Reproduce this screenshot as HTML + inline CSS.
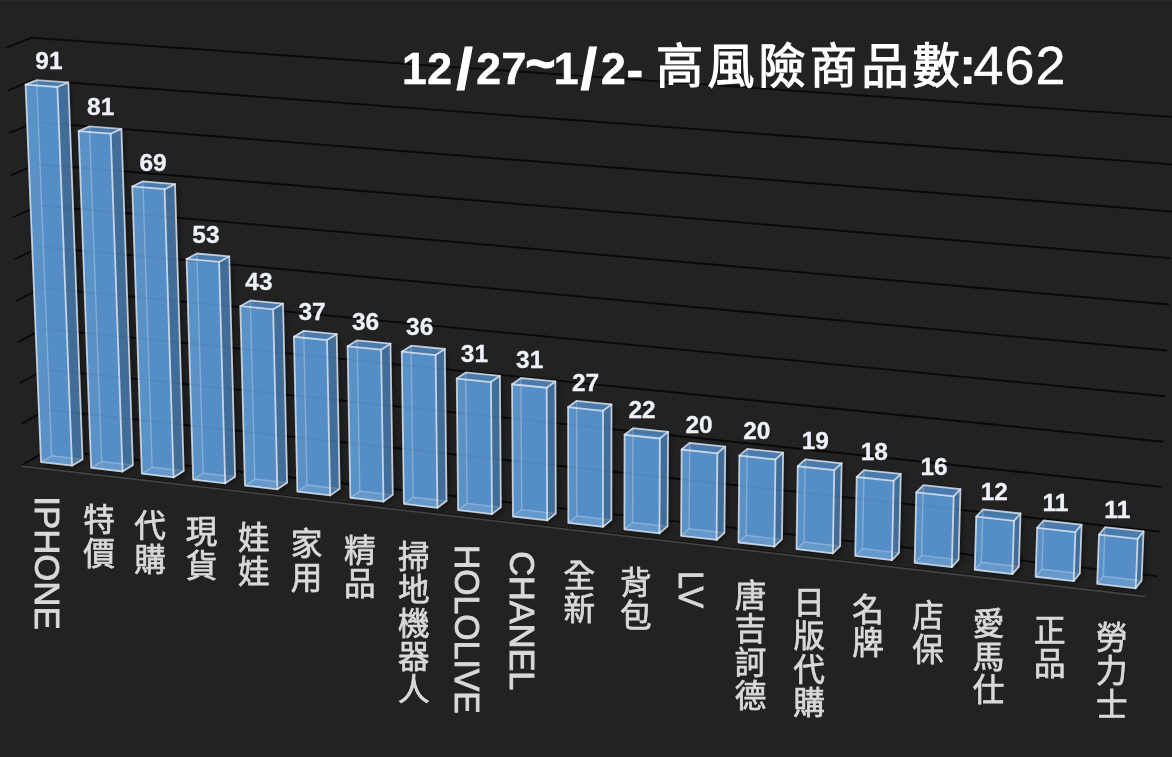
<!DOCTYPE html>
<html lang="zh-Hant"><head><meta charset="utf-8"><title>12/27~1/2- 高風險商品數:462</title>
<style>html,body{margin:0;padding:0;background:#222222;overflow:hidden}svg{display:block}</style>
</head><body>
<svg width="1172" height="757" viewBox="0 0 1172 757">
<rect width="1172" height="757" fill="#222222"/>
<rect width="1172" height="1" fill="#2b2b2b"/>
<g stroke="#0a0a0a" stroke-width="1.9" stroke-linecap="butt" fill="none">
<polyline points="21.44,465.51 48.25,449.85 1157.74,576.21" />
<polyline points="21.57,423.89 46.63,409.73 1159.59,531.67" />
<polyline points="19.85,383.10 45.00,369.38 1161.44,486.84" />
<polyline points="18.12,342.07 43.37,328.78 1163.31,441.72" />
<polyline points="16.38,300.80 41.72,287.94 1165.19,396.29" />
<polyline points="14.62,259.27 40.06,246.86 1167.09,350.56" />
<polyline points="12.86,217.49 38.39,205.54 1168.99,304.52" />
<polyline points="11.09,175.47 36.72,163.96 1170.91,258.17" />
<polyline points="9.30,133.18 35.03,122.14 1172.84,211.51" />
<polyline points="7.50,90.64 33.33,80.07 1174.79,164.54" />
<polyline points="5.70,47.84 31.62,37.74 1176.75,117.24" />
</g>
<defs><filter id="sh" filterUnits="userSpaceOnUse" x="0" y="0" width="1172" height="757"><feGaussianBlur stdDeviation="3"/></filter></defs>
<g filter="url(#sh)" fill="#000000" fill-opacity="0.55" transform="translate(2.0,2.0)">
<polygon points="41.01,462.09 72.04,465.67 82.61,459.36 68.34,82.42 36.62,80.07 25.57,84.60" />
<polygon points="91.17,467.87 122.54,471.49 132.90,465.11 121.41,128.90 89.44,126.39 78.63,131.17" />
<polygon points="141.87,473.72 173.58,477.38 183.75,470.94 175.02,184.11 142.79,181.40 132.23,186.47" />
<polygon points="193.13,479.63 225.19,483.33 235.15,476.82 229.27,256.45 196.84,253.49 186.55,258.94" />
<polygon points="244.95,485.61 277.37,489.34 287.12,482.77 283.02,303.61 250.33,300.48 240.29,306.18" />
<polygon points="297.35,491.65 330.13,495.43 339.67,488.79 336.73,334.11 303.72,330.87 293.92,336.74" />
<polygon points="350.33,497.76 383.48,501.58 392.80,494.87 390.51,343.64 357.15,340.35 347.57,346.30" />
<polygon points="403.91,503.93 437.44,507.80 446.53,501.02 444.83,349.00 411.08,345.67 401.73,351.69" />
<polygon points="458.10,510.18 492.00,514.09 500.86,507.24 499.92,375.86 465.84,372.42 456.74,378.60" />
<polygon points="512.90,516.50 547.18,520.45 555.81,513.53 555.40,381.46 520.92,377.98 512.06,384.23" />
<polygon points="568.32,522.89 603.00,526.89 611.38,519.89 611.49,404.40 576.67,400.82 568.06,407.22" />
<polygon points="624.38,529.35 659.46,533.40 667.60,526.33 668.08,431.87 632.91,428.18 624.56,434.75" />
<polygon points="681.09,535.89 716.58,539.98 724.45,532.84 725.26,446.57 689.70,442.81 681.62,449.49" />
<polygon points="738.46,542.51 774.36,546.64 781.97,539.42 783.15,452.69 747.18,448.89 739.35,455.64" />
<polygon points="796.49,549.20 832.82,553.38 840.16,546.09 841.64,463.27 805.26,459.41 797.71,466.26" />
<polygon points="855.21,555.97 891.97,560.20 899.04,552.83 900.79,473.97 863.99,470.05 856.71,476.99" />
<polygon points="914.63,562.82 951.82,567.11 958.60,559.64 960.48,489.22 923.27,485.22 916.28,492.28" />
<polygon points="974.75,569.75 1012.38,574.09 1018.88,566.55 1020.53,513.51 982.92,509.40 976.23,516.63" />
<polygon points="1035.59,576.76 1073.67,581.15 1079.87,573.53 1081.61,524.66 1043.57,520.49 1037.17,527.82" />
<polygon points="1097.16,583.86 1135.71,588.31 1141.60,580.60 1143.57,531.46 1105.07,527.23 1098.98,534.65" />
</g>
<line x1="21.44" y1="464.91" x2="1145.04" y2="595.15" stroke="#141414" stroke-width="1.0"/>
<line x1="21.44" y1="466.11" x2="1145.04" y2="596.35" stroke="#444444" stroke-width="1.6"/>
<g>
<polygon points="41.01,462.09 72.04,465.67 82.61,459.36 68.34,82.42 36.62,80.07 25.57,84.60" fill="#558ec6"/>
<polygon points="41.01,462.09 72.04,465.67 82.61,459.36 51.69,455.82" fill="rgba(255,255,255,0.10)"/>
<polygon points="41.01,462.09 51.69,455.82 36.62,80.07 25.57,84.60" fill="rgba(255,255,255,0.03)"/>
<g stroke="rgba(255,255,255,0.27)" stroke-width="1.4" fill="none">
<line x1="51.69" y1="455.82" x2="36.62" y2="80.07" />
<line x1="51.69" y1="455.82" x2="41.01" y2="462.09" />
<line x1="51.69" y1="455.82" x2="82.61" y2="459.36" />
</g>
<polygon points="72.04,465.67 82.61,459.36 68.34,82.42 57.41,86.98" fill="rgba(0,0,0,0.23)"/>
<polygon points="25.57,84.60 57.41,86.98 68.34,82.42 36.62,80.07" fill="rgba(0,0,0,0.13)"/>
<g stroke="#dfe8f3" stroke-width="1.8" stroke-opacity="0.82" fill="none" stroke-linejoin="round" stroke-linecap="round">
<polygon points="41.01,462.09 72.04,465.67 57.41,86.98 25.57,84.60" />
<polyline points="72.04,465.67 82.61,459.36 68.34,82.42 57.41,86.98" />
<polyline points="25.57,84.60 36.62,80.07 68.34,82.42" />
</g>
</g>
<g>
<polygon points="91.17,467.87 122.54,471.49 132.90,465.11 121.41,128.90 89.44,126.39 78.63,131.17" fill="#558ec6"/>
<polygon points="91.17,467.87 122.54,471.49 132.90,465.11 101.66,461.54" fill="rgba(255,255,255,0.10)"/>
<polygon points="91.17,467.87 101.66,461.54 89.44,126.39 78.63,131.17" fill="rgba(255,255,255,0.03)"/>
<g stroke="rgba(255,255,255,0.27)" stroke-width="1.4" fill="none">
<line x1="101.66" y1="461.54" x2="89.44" y2="126.39" />
<line x1="101.66" y1="461.54" x2="91.17" y2="467.87" />
<line x1="101.66" y1="461.54" x2="132.90" y2="465.11" />
</g>
<polygon points="122.54,471.49 132.90,465.11 121.41,128.90 110.73,133.71" fill="rgba(0,0,0,0.23)"/>
<polygon points="78.63,131.17 110.73,133.71 121.41,128.90 89.44,126.39" fill="rgba(0,0,0,0.13)"/>
<g stroke="#dfe8f3" stroke-width="1.8" stroke-opacity="0.82" fill="none" stroke-linejoin="round" stroke-linecap="round">
<polygon points="91.17,467.87 122.54,471.49 110.73,133.71 78.63,131.17" />
<polyline points="122.54,471.49 132.90,465.11 121.41,128.90 110.73,133.71" />
<polyline points="78.63,131.17 89.44,126.39 121.41,128.90" />
</g>
</g>
<g>
<polygon points="141.87,473.72 173.58,477.38 183.75,470.94 175.02,184.11 142.79,181.40 132.23,186.47" fill="#558ec6"/>
<polygon points="141.87,473.72 173.58,477.38 183.75,470.94 152.16,467.32" fill="rgba(255,255,255,0.10)"/>
<polygon points="141.87,473.72 152.16,467.32 142.79,181.40 132.23,186.47" fill="rgba(255,255,255,0.03)"/>
<g stroke="rgba(255,255,255,0.27)" stroke-width="1.4" fill="none">
<line x1="152.16" y1="467.32" x2="142.79" y2="181.40" />
<line x1="152.16" y1="467.32" x2="141.87" y2="473.72" />
<line x1="152.16" y1="467.32" x2="183.75" y2="470.94" />
</g>
<polygon points="173.58,477.38 183.75,470.94 175.02,184.11 164.59,189.21" fill="rgba(0,0,0,0.23)"/>
<polygon points="132.23,186.47 164.59,189.21 175.02,184.11 142.79,181.40" fill="rgba(0,0,0,0.13)"/>
<g stroke="#dfe8f3" stroke-width="1.8" stroke-opacity="0.82" fill="none" stroke-linejoin="round" stroke-linecap="round">
<polygon points="141.87,473.72 173.58,477.38 164.59,189.21 132.23,186.47" />
<polyline points="173.58,477.38 183.75,470.94 175.02,184.11 164.59,189.21" />
<polyline points="132.23,186.47 142.79,181.40 175.02,184.11" />
</g>
</g>
<g>
<polygon points="193.13,479.63 225.19,483.33 235.15,476.82 229.27,256.45 196.84,253.49 186.55,258.94" fill="#558ec6"/>
<polygon points="193.13,479.63 225.19,483.33 235.15,476.82 203.22,473.16" fill="rgba(255,255,255,0.10)"/>
<polygon points="193.13,479.63 203.22,473.16 196.84,253.49 186.55,258.94" fill="rgba(255,255,255,0.03)"/>
<g stroke="rgba(255,255,255,0.27)" stroke-width="1.4" fill="none">
<line x1="203.22" y1="473.16" x2="196.84" y2="253.49" />
<line x1="203.22" y1="473.16" x2="193.13" y2="479.63" />
<line x1="203.22" y1="473.16" x2="235.15" y2="476.82" />
</g>
<polygon points="225.19,483.33 235.15,476.82 229.27,256.45 219.12,261.93" fill="rgba(0,0,0,0.23)"/>
<polygon points="186.55,258.94 219.12,261.93 229.27,256.45 196.84,253.49" fill="rgba(0,0,0,0.13)"/>
<g stroke="#dfe8f3" stroke-width="1.8" stroke-opacity="0.82" fill="none" stroke-linejoin="round" stroke-linecap="round">
<polygon points="193.13,479.63 225.19,483.33 219.12,261.93 186.55,258.94" />
<polyline points="225.19,483.33 235.15,476.82 229.27,256.45 219.12,261.93" />
<polyline points="186.55,258.94 196.84,253.49 229.27,256.45" />
</g>
</g>
<g>
<polygon points="244.95,485.61 277.37,489.34 287.12,482.77 283.02,303.61 250.33,300.48 240.29,306.18" fill="#558ec6"/>
<polygon points="244.95,485.61 277.37,489.34 287.12,482.77 254.84,479.07" fill="rgba(255,255,255,0.10)"/>
<polygon points="244.95,485.61 254.84,479.07 250.33,300.48 240.29,306.18" fill="rgba(255,255,255,0.03)"/>
<g stroke="rgba(255,255,255,0.27)" stroke-width="1.4" fill="none">
<line x1="254.84" y1="479.07" x2="250.33" y2="300.48" />
<line x1="254.84" y1="479.07" x2="244.95" y2="485.61" />
<line x1="254.84" y1="479.07" x2="287.12" y2="482.77" />
</g>
<polygon points="277.37,489.34 287.12,482.77 283.02,303.61 273.12,309.34" fill="rgba(0,0,0,0.23)"/>
<polygon points="240.29,306.18 273.12,309.34 283.02,303.61 250.33,300.48" fill="rgba(0,0,0,0.13)"/>
<g stroke="#dfe8f3" stroke-width="1.8" stroke-opacity="0.82" fill="none" stroke-linejoin="round" stroke-linecap="round">
<polygon points="244.95,485.61 277.37,489.34 273.12,309.34 240.29,306.18" />
<polyline points="277.37,489.34 287.12,482.77 283.02,303.61 273.12,309.34" />
<polyline points="240.29,306.18 250.33,300.48 283.02,303.61" />
</g>
</g>
<g>
<polygon points="297.35,491.65 330.13,495.43 339.67,488.79 336.73,334.11 303.72,330.87 293.92,336.74" fill="#558ec6"/>
<polygon points="297.35,491.65 330.13,495.43 339.67,488.79 307.02,485.05" fill="rgba(255,255,255,0.10)"/>
<polygon points="297.35,491.65 307.02,485.05 303.72,330.87 293.92,336.74" fill="rgba(255,255,255,0.03)"/>
<g stroke="rgba(255,255,255,0.27)" stroke-width="1.4" fill="none">
<line x1="307.02" y1="485.05" x2="303.72" y2="330.87" />
<line x1="307.02" y1="485.05" x2="297.35" y2="491.65" />
<line x1="307.02" y1="485.05" x2="339.67" y2="488.79" />
</g>
<polygon points="330.13,495.43 339.67,488.79 336.73,334.11 327.06,340.03" fill="rgba(0,0,0,0.23)"/>
<polygon points="293.92,336.74 327.06,340.03 336.73,334.11 303.72,330.87" fill="rgba(0,0,0,0.13)"/>
<g stroke="#dfe8f3" stroke-width="1.8" stroke-opacity="0.82" fill="none" stroke-linejoin="round" stroke-linecap="round">
<polygon points="297.35,491.65 330.13,495.43 327.06,340.03 293.92,336.74" />
<polyline points="330.13,495.43 339.67,488.79 336.73,334.11 327.06,340.03" />
<polyline points="293.92,336.74 303.72,330.87 336.73,334.11" />
</g>
</g>
<g>
<polygon points="350.33,497.76 383.48,501.58 392.80,494.87 390.51,343.64 357.15,340.35 347.57,346.30" fill="#558ec6"/>
<polygon points="350.33,497.76 383.48,501.58 392.80,494.87 359.79,491.09" fill="rgba(255,255,255,0.10)"/>
<polygon points="350.33,497.76 359.79,491.09 357.15,340.35 347.57,346.30" fill="rgba(255,255,255,0.03)"/>
<g stroke="rgba(255,255,255,0.27)" stroke-width="1.4" fill="none">
<line x1="359.79" y1="491.09" x2="357.15" y2="340.35" />
<line x1="359.79" y1="491.09" x2="350.33" y2="497.76" />
<line x1="359.79" y1="491.09" x2="392.80" y2="494.87" />
</g>
<polygon points="383.48,501.58 392.80,494.87 390.51,343.64 381.08,349.64" fill="rgba(0,0,0,0.23)"/>
<polygon points="347.57,346.30 381.08,349.64 390.51,343.64 357.15,340.35" fill="rgba(0,0,0,0.13)"/>
<g stroke="#dfe8f3" stroke-width="1.8" stroke-opacity="0.82" fill="none" stroke-linejoin="round" stroke-linecap="round">
<polygon points="350.33,497.76 383.48,501.58 381.08,349.64 347.57,346.30" />
<polyline points="383.48,501.58 392.80,494.87 390.51,343.64 381.08,349.64" />
<polyline points="347.57,346.30 357.15,340.35 390.51,343.64" />
</g>
</g>
<g>
<polygon points="403.91,503.93 437.44,507.80 446.53,501.02 444.83,349.00 411.08,345.67 401.73,351.69" fill="#558ec6"/>
<polygon points="403.91,503.93 437.44,507.80 446.53,501.02 413.15,497.20" fill="rgba(255,255,255,0.10)"/>
<polygon points="403.91,503.93 413.15,497.20 411.08,345.67 401.73,351.69" fill="rgba(255,255,255,0.03)"/>
<g stroke="rgba(255,255,255,0.27)" stroke-width="1.4" fill="none">
<line x1="413.15" y1="497.20" x2="411.08" y2="345.67" />
<line x1="413.15" y1="497.20" x2="403.91" y2="503.93" />
<line x1="413.15" y1="497.20" x2="446.53" y2="501.02" />
</g>
<polygon points="437.44,507.80 446.53,501.02 444.83,349.00 435.62,355.06" fill="rgba(0,0,0,0.23)"/>
<polygon points="401.73,351.69 435.62,355.06 444.83,349.00 411.08,345.67" fill="rgba(0,0,0,0.13)"/>
<g stroke="#dfe8f3" stroke-width="1.8" stroke-opacity="0.82" fill="none" stroke-linejoin="round" stroke-linecap="round">
<polygon points="403.91,503.93 437.44,507.80 435.62,355.06 401.73,351.69" />
<polyline points="437.44,507.80 446.53,501.02 444.83,349.00 435.62,355.06" />
<polyline points="401.73,351.69 411.08,345.67 444.83,349.00" />
</g>
</g>
<g>
<polygon points="458.10,510.18 492.00,514.09 500.86,507.24 499.92,375.86 465.84,372.42 456.74,378.60" fill="#558ec6"/>
<polygon points="458.10,510.18 492.00,514.09 500.86,507.24 467.10,503.38" fill="rgba(255,255,255,0.10)"/>
<polygon points="458.10,510.18 467.10,503.38 465.84,372.42 456.74,378.60" fill="rgba(255,255,255,0.03)"/>
<g stroke="rgba(255,255,255,0.27)" stroke-width="1.4" fill="none">
<line x1="467.10" y1="503.38" x2="465.84" y2="372.42" />
<line x1="467.10" y1="503.38" x2="458.10" y2="510.18" />
<line x1="467.10" y1="503.38" x2="500.86" y2="507.24" />
</g>
<polygon points="492.00,514.09 500.86,507.24 499.92,375.86 490.96,382.08" fill="rgba(0,0,0,0.23)"/>
<polygon points="456.74,378.60 490.96,382.08 499.92,375.86 465.84,372.42" fill="rgba(0,0,0,0.13)"/>
<g stroke="#dfe8f3" stroke-width="1.8" stroke-opacity="0.82" fill="none" stroke-linejoin="round" stroke-linecap="round">
<polygon points="458.10,510.18 492.00,514.09 490.96,382.08 456.74,378.60" />
<polyline points="492.00,514.09 500.86,507.24 499.92,375.86 490.96,382.08" />
<polyline points="456.74,378.60 465.84,372.42 499.92,375.86" />
</g>
</g>
<g>
<polygon points="512.90,516.50 547.18,520.45 555.81,513.53 555.40,381.46 520.92,377.98 512.06,384.23" fill="#558ec6"/>
<polygon points="512.90,516.50 547.18,520.45 555.81,513.53 521.67,509.62" fill="rgba(255,255,255,0.10)"/>
<polygon points="512.90,516.50 521.67,509.62 520.92,377.98 512.06,384.23" fill="rgba(255,255,255,0.03)"/>
<g stroke="rgba(255,255,255,0.27)" stroke-width="1.4" fill="none">
<line x1="521.67" y1="509.62" x2="520.92" y2="377.98" />
<line x1="521.67" y1="509.62" x2="512.90" y2="516.50" />
<line x1="521.67" y1="509.62" x2="555.81" y2="513.53" />
</g>
<polygon points="547.18,520.45 555.81,513.53 555.40,381.46 546.68,387.75" fill="rgba(0,0,0,0.23)"/>
<polygon points="512.06,384.23 546.68,387.75 555.40,381.46 520.92,377.98" fill="rgba(0,0,0,0.13)"/>
<g stroke="#dfe8f3" stroke-width="1.8" stroke-opacity="0.82" fill="none" stroke-linejoin="round" stroke-linecap="round">
<polygon points="512.90,516.50 547.18,520.45 546.68,387.75 512.06,384.23" />
<polyline points="547.18,520.45 555.81,513.53 555.40,381.46 546.68,387.75" />
<polyline points="512.06,384.23 520.92,377.98 555.40,381.46" />
</g>
</g>
<g>
<polygon points="568.32,522.89 603.00,526.89 611.38,519.89 611.49,404.40 576.67,400.82 568.06,407.22" fill="#558ec6"/>
<polygon points="568.32,522.89 603.00,526.89 611.38,519.89 576.85,515.94" fill="rgba(255,255,255,0.10)"/>
<polygon points="568.32,522.89 576.85,515.94 576.67,400.82 568.06,407.22" fill="rgba(255,255,255,0.03)"/>
<g stroke="rgba(255,255,255,0.27)" stroke-width="1.4" fill="none">
<line x1="576.85" y1="515.94" x2="576.67" y2="400.82" />
<line x1="576.85" y1="515.94" x2="568.32" y2="522.89" />
<line x1="576.85" y1="515.94" x2="611.38" y2="519.89" />
</g>
<polygon points="603.00,526.89 611.38,519.89 611.49,404.40 603.04,410.84" fill="rgba(0,0,0,0.23)"/>
<polygon points="568.06,407.22 603.04,410.84 611.49,404.40 576.67,400.82" fill="rgba(0,0,0,0.13)"/>
<g stroke="#dfe8f3" stroke-width="1.8" stroke-opacity="0.82" fill="none" stroke-linejoin="round" stroke-linecap="round">
<polygon points="568.32,522.89 603.00,526.89 603.04,410.84 568.06,407.22" />
<polyline points="603.00,526.89 611.38,519.89 611.49,404.40 603.04,410.84" />
<polyline points="568.06,407.22 576.67,400.82 611.49,404.40" />
</g>
</g>
<g>
<polygon points="624.38,529.35 659.46,533.40 667.60,526.33 668.08,431.87 632.91,428.18 624.56,434.75" fill="#558ec6"/>
<polygon points="624.38,529.35 659.46,533.40 667.60,526.33 632.67,522.33" fill="rgba(255,255,255,0.10)"/>
<polygon points="624.38,529.35 632.67,522.33 632.91,428.18 624.56,434.75" fill="rgba(255,255,255,0.03)"/>
<g stroke="rgba(255,255,255,0.27)" stroke-width="1.4" fill="none">
<line x1="632.67" y1="522.33" x2="632.91" y2="428.18" />
<line x1="632.67" y1="522.33" x2="624.38" y2="529.35" />
<line x1="632.67" y1="522.33" x2="667.60" y2="526.33" />
</g>
<polygon points="659.46,533.40 667.60,526.33 668.08,431.87 659.89,438.49" fill="rgba(0,0,0,0.23)"/>
<polygon points="624.56,434.75 659.89,438.49 668.08,431.87 632.91,428.18" fill="rgba(0,0,0,0.13)"/>
<g stroke="#dfe8f3" stroke-width="1.8" stroke-opacity="0.82" fill="none" stroke-linejoin="round" stroke-linecap="round">
<polygon points="624.38,529.35 659.46,533.40 659.89,438.49 624.56,434.75" />
<polyline points="659.46,533.40 667.60,526.33 668.08,431.87 659.89,438.49" />
<polyline points="624.56,434.75 632.91,428.18 668.08,431.87" />
</g>
</g>
<g>
<polygon points="681.09,535.89 716.58,539.98 724.45,532.84 725.26,446.57 689.70,442.81 681.62,449.49" fill="#558ec6"/>
<polygon points="681.09,535.89 716.58,539.98 724.45,532.84 689.12,528.79" fill="rgba(255,255,255,0.10)"/>
<polygon points="681.09,535.89 689.12,528.79 689.70,442.81 681.62,449.49" fill="rgba(255,255,255,0.03)"/>
<g stroke="rgba(255,255,255,0.27)" stroke-width="1.4" fill="none">
<line x1="689.12" y1="528.79" x2="689.70" y2="442.81" />
<line x1="689.12" y1="528.79" x2="681.09" y2="535.89" />
<line x1="689.12" y1="528.79" x2="724.45" y2="532.84" />
</g>
<polygon points="716.58,539.98 724.45,532.84 725.26,446.57 717.34,453.30" fill="rgba(0,0,0,0.23)"/>
<polygon points="681.62,449.49 717.34,453.30 725.26,446.57 689.70,442.81" fill="rgba(0,0,0,0.13)"/>
<g stroke="#dfe8f3" stroke-width="1.8" stroke-opacity="0.82" fill="none" stroke-linejoin="round" stroke-linecap="round">
<polygon points="681.09,535.89 716.58,539.98 717.34,453.30 681.62,449.49" />
<polyline points="716.58,539.98 724.45,532.84 725.26,446.57 717.34,453.30" />
<polyline points="681.62,449.49 689.70,442.81 725.26,446.57" />
</g>
</g>
<g>
<polygon points="738.46,542.51 774.36,546.64 781.97,539.42 783.15,452.69 747.18,448.89 739.35,455.64" fill="#558ec6"/>
<polygon points="738.46,542.51 774.36,546.64 781.97,539.42 746.23,535.33" fill="rgba(255,255,255,0.10)"/>
<polygon points="738.46,542.51 746.23,535.33 747.18,448.89 739.35,455.64" fill="rgba(255,255,255,0.03)"/>
<g stroke="rgba(255,255,255,0.27)" stroke-width="1.4" fill="none">
<line x1="746.23" y1="535.33" x2="747.18" y2="448.89" />
<line x1="746.23" y1="535.33" x2="738.46" y2="542.51" />
<line x1="746.23" y1="535.33" x2="781.97" y2="539.42" />
</g>
<polygon points="774.36,546.64 781.97,539.42 783.15,452.69 775.49,459.49" fill="rgba(0,0,0,0.23)"/>
<polygon points="739.35,455.64 775.49,459.49 783.15,452.69 747.18,448.89" fill="rgba(0,0,0,0.13)"/>
<g stroke="#dfe8f3" stroke-width="1.8" stroke-opacity="0.82" fill="none" stroke-linejoin="round" stroke-linecap="round">
<polygon points="738.46,542.51 774.36,546.64 775.49,459.49 739.35,455.64" />
<polyline points="774.36,546.64 781.97,539.42 783.15,452.69 775.49,459.49" />
<polyline points="739.35,455.64 747.18,448.89 783.15,452.69" />
</g>
</g>
<g>
<polygon points="796.49,549.20 832.82,553.38 840.16,546.09 841.64,463.27 805.26,459.41 797.71,466.26" fill="#558ec6"/>
<polygon points="796.49,549.20 832.82,553.38 840.16,546.09 804.01,541.95" fill="rgba(255,255,255,0.10)"/>
<polygon points="796.49,549.20 804.01,541.95 805.26,459.41 797.71,466.26" fill="rgba(255,255,255,0.03)"/>
<g stroke="rgba(255,255,255,0.27)" stroke-width="1.4" fill="none">
<line x1="804.01" y1="541.95" x2="805.26" y2="459.41" />
<line x1="804.01" y1="541.95" x2="796.49" y2="549.20" />
<line x1="804.01" y1="541.95" x2="840.16" y2="546.09" />
</g>
<polygon points="832.82,553.38 840.16,546.09 841.64,463.27 834.26,470.17" fill="rgba(0,0,0,0.23)"/>
<polygon points="797.71,466.26 834.26,470.17 841.64,463.27 805.26,459.41" fill="rgba(0,0,0,0.13)"/>
<g stroke="#dfe8f3" stroke-width="1.8" stroke-opacity="0.82" fill="none" stroke-linejoin="round" stroke-linecap="round">
<polygon points="796.49,549.20 832.82,553.38 834.26,470.17 797.71,466.26" />
<polyline points="832.82,553.38 840.16,546.09 841.64,463.27 834.26,470.17" />
<polyline points="797.71,466.26 805.26,459.41 841.64,463.27" />
</g>
</g>
<g>
<polygon points="855.21,555.97 891.97,560.20 899.04,552.83 900.79,473.97 863.99,470.05 856.71,476.99" fill="#558ec6"/>
<polygon points="855.21,555.97 891.97,560.20 899.04,552.83 862.45,548.64" fill="rgba(255,255,255,0.10)"/>
<polygon points="855.21,555.97 862.45,548.64 863.99,470.05 856.71,476.99" fill="rgba(255,255,255,0.03)"/>
<g stroke="rgba(255,255,255,0.27)" stroke-width="1.4" fill="none">
<line x1="862.45" y1="548.64" x2="863.99" y2="470.05" />
<line x1="862.45" y1="548.64" x2="855.21" y2="555.97" />
<line x1="862.45" y1="548.64" x2="899.04" y2="552.83" />
</g>
<polygon points="891.97,560.20 899.04,552.83 900.79,473.97 893.69,480.97" fill="rgba(0,0,0,0.23)"/>
<polygon points="856.71,476.99 893.69,480.97 900.79,473.97 863.99,470.05" fill="rgba(0,0,0,0.13)"/>
<g stroke="#dfe8f3" stroke-width="1.8" stroke-opacity="0.82" fill="none" stroke-linejoin="round" stroke-linecap="round">
<polygon points="855.21,555.97 891.97,560.20 893.69,480.97 856.71,476.99" />
<polyline points="891.97,560.20 899.04,552.83 900.79,473.97 893.69,480.97" />
<polyline points="856.71,476.99 863.99,470.05 900.79,473.97" />
</g>
</g>
<g>
<polygon points="914.63,562.82 951.82,567.11 958.60,559.64 960.48,489.22 923.27,485.22 916.28,492.28" fill="#558ec6"/>
<polygon points="914.63,562.82 951.82,567.11 958.60,559.64 921.59,555.41" fill="rgba(255,255,255,0.10)"/>
<polygon points="914.63,562.82 921.59,555.41 923.27,485.22 916.28,492.28" fill="rgba(255,255,255,0.03)"/>
<g stroke="rgba(255,255,255,0.27)" stroke-width="1.4" fill="none">
<line x1="921.59" y1="555.41" x2="923.27" y2="485.22" />
<line x1="921.59" y1="555.41" x2="914.63" y2="562.82" />
<line x1="921.59" y1="555.41" x2="958.60" y2="559.64" />
</g>
<polygon points="951.82,567.11 958.60,559.64 960.48,489.22 953.67,496.33" fill="rgba(0,0,0,0.23)"/>
<polygon points="916.28,492.28 953.67,496.33 960.48,489.22 923.27,485.22" fill="rgba(0,0,0,0.13)"/>
<g stroke="#dfe8f3" stroke-width="1.8" stroke-opacity="0.82" fill="none" stroke-linejoin="round" stroke-linecap="round">
<polygon points="914.63,562.82 951.82,567.11 953.67,496.33 916.28,492.28" />
<polyline points="951.82,567.11 958.60,559.64 960.48,489.22 953.67,496.33" />
<polyline points="916.28,492.28 923.27,485.22 960.48,489.22" />
</g>
</g>
<g>
<polygon points="974.75,569.75 1012.38,574.09 1018.88,566.55 1020.53,513.51 982.92,509.40 976.23,516.63" fill="#558ec6"/>
<polygon points="974.75,569.75 1012.38,574.09 1018.88,566.55 981.42,562.26" fill="rgba(255,255,255,0.10)"/>
<polygon points="974.75,569.75 981.42,562.26 982.92,509.40 976.23,516.63" fill="rgba(255,255,255,0.03)"/>
<g stroke="rgba(255,255,255,0.27)" stroke-width="1.4" fill="none">
<line x1="981.42" y1="562.26" x2="982.92" y2="509.40" />
<line x1="981.42" y1="562.26" x2="974.75" y2="569.75" />
<line x1="981.42" y1="562.26" x2="1018.88" y2="566.55" />
</g>
<polygon points="1012.38,574.09 1018.88,566.55 1020.53,513.51 1014.01,520.79" fill="rgba(0,0,0,0.23)"/>
<polygon points="976.23,516.63 1014.01,520.79 1020.53,513.51 982.92,509.40" fill="rgba(0,0,0,0.13)"/>
<g stroke="#dfe8f3" stroke-width="1.8" stroke-opacity="0.82" fill="none" stroke-linejoin="round" stroke-linecap="round">
<polygon points="974.75,569.75 1012.38,574.09 1014.01,520.79 976.23,516.63" />
<polyline points="1012.38,574.09 1018.88,566.55 1020.53,513.51 1014.01,520.79" />
<polyline points="976.23,516.63 982.92,509.40 1020.53,513.51" />
</g>
</g>
<g>
<polygon points="1035.59,576.76 1073.67,581.15 1079.87,573.53 1081.61,524.66 1043.57,520.49 1037.17,527.82" fill="#558ec6"/>
<polygon points="1035.59,576.76 1073.67,581.15 1079.87,573.53 1041.97,569.19" fill="rgba(255,255,255,0.10)"/>
<polygon points="1035.59,576.76 1041.97,569.19 1043.57,520.49 1037.17,527.82" fill="rgba(255,255,255,0.03)"/>
<g stroke="rgba(255,255,255,0.27)" stroke-width="1.4" fill="none">
<line x1="1041.97" y1="569.19" x2="1043.57" y2="520.49" />
<line x1="1041.97" y1="569.19" x2="1035.59" y2="576.76" />
<line x1="1041.97" y1="569.19" x2="1079.87" y2="573.53" />
</g>
<polygon points="1073.67,581.15 1079.87,573.53 1081.61,524.66 1075.40,532.04" fill="rgba(0,0,0,0.23)"/>
<polygon points="1037.17,527.82 1075.40,532.04 1081.61,524.66 1043.57,520.49" fill="rgba(0,0,0,0.13)"/>
<g stroke="#dfe8f3" stroke-width="1.8" stroke-opacity="0.82" fill="none" stroke-linejoin="round" stroke-linecap="round">
<polygon points="1035.59,576.76 1073.67,581.15 1075.40,532.04 1037.17,527.82" />
<polyline points="1073.67,581.15 1079.87,573.53 1081.61,524.66 1075.40,532.04" />
<polyline points="1037.17,527.82 1043.57,520.49 1081.61,524.66" />
</g>
</g>
<g>
<polygon points="1097.16,583.86 1135.71,588.31 1141.60,580.60 1143.57,531.46 1105.07,527.23 1098.98,534.65" fill="#558ec6"/>
<polygon points="1097.16,583.86 1135.71,588.31 1141.60,580.60 1103.24,576.20" fill="rgba(255,255,255,0.10)"/>
<polygon points="1097.16,583.86 1103.24,576.20 1105.07,527.23 1098.98,534.65" fill="rgba(255,255,255,0.03)"/>
<g stroke="rgba(255,255,255,0.27)" stroke-width="1.4" fill="none">
<line x1="1103.24" y1="576.20" x2="1105.07" y2="527.23" />
<line x1="1103.24" y1="576.20" x2="1097.16" y2="583.86" />
<line x1="1103.24" y1="576.20" x2="1141.60" y2="580.60" />
</g>
<polygon points="1135.71,588.31 1141.60,580.60 1143.57,531.46 1137.67,538.92" fill="rgba(0,0,0,0.23)"/>
<polygon points="1098.98,534.65 1137.67,538.92 1143.57,531.46 1105.07,527.23" fill="rgba(0,0,0,0.13)"/>
<g stroke="#dfe8f3" stroke-width="1.8" stroke-opacity="0.82" fill="none" stroke-linejoin="round" stroke-linecap="round">
<polygon points="1097.16,583.86 1135.71,588.31 1137.67,538.92 1098.98,534.65" />
<polyline points="1135.71,588.31 1141.60,580.60 1143.57,531.46 1137.67,538.92" />
<polyline points="1098.98,534.65 1105.07,527.23 1143.57,531.46" />
</g>
</g>
<g stroke="#0a0a0a" stroke-width="1.9" stroke-opacity="0.045" fill="none">
<line x1="46.63" y1="409.73" x2="1159.59" y2="531.67" />
<line x1="45.00" y1="369.38" x2="1161.44" y2="486.84" />
<line x1="43.37" y1="328.78" x2="1163.31" y2="441.72" />
<line x1="41.72" y1="287.94" x2="1165.19" y2="396.29" />
<line x1="40.06" y1="246.86" x2="1167.09" y2="350.56" />
<line x1="38.39" y1="205.54" x2="1168.99" y2="304.52" />
<line x1="36.72" y1="163.96" x2="1170.91" y2="258.17" />
<line x1="35.03" y1="122.14" x2="1172.84" y2="211.51" />
<line x1="33.33" y1="80.07" x2="1174.79" y2="164.54" />
</g>
<g font-family="'Liberation Sans', sans-serif" font-weight="700" font-size="23.6" fill="#eef2f8" stroke="#eef2f8" stroke-width="0.3" text-anchor="middle">
<text x="48.98" y="69.07" textLength="27.2" lengthAdjust="spacingAndGlyphs">91</text>
<text x="100.74" y="115.46" textLength="27.2" lengthAdjust="spacingAndGlyphs">81</text>
<text x="153.04" y="170.54" textLength="27.2" lengthAdjust="spacingAndGlyphs">69</text>
<text x="205.97" y="242.70" textLength="27.2" lengthAdjust="spacingAndGlyphs">53</text>
<text x="258.90" y="289.76" textLength="27.2" lengthAdjust="spacingAndGlyphs">43</text>
<text x="312.09" y="320.22" textLength="27.2" lengthAdjust="spacingAndGlyphs">37</text>
<text x="365.59" y="329.77" textLength="27.2" lengthAdjust="spacingAndGlyphs">36</text>
<text x="419.65" y="335.16" textLength="27.2" lengthAdjust="spacingAndGlyphs">36</text>
<text x="474.42" y="361.98" textLength="27.2" lengthAdjust="spacingAndGlyphs">31</text>
<text x="529.68" y="367.61" textLength="27.2" lengthAdjust="spacingAndGlyphs">31</text>
<text x="585.58" y="390.52" textLength="27.2" lengthAdjust="spacingAndGlyphs">27</text>
<text x="642.04" y="417.95" textLength="27.2" lengthAdjust="spacingAndGlyphs">22</text>
<text x="699.12" y="432.65" textLength="27.2" lengthAdjust="spacingAndGlyphs">20</text>
<text x="756.88" y="438.80" textLength="27.2" lengthAdjust="spacingAndGlyphs">20</text>
<text x="815.29" y="449.39" textLength="27.2" lengthAdjust="spacingAndGlyphs">19</text>
<text x="874.36" y="460.10" textLength="27.2" lengthAdjust="spacingAndGlyphs">18</text>
<text x="934.06" y="475.34" textLength="27.2" lengthAdjust="spacingAndGlyphs">16</text>
<text x="994.31" y="499.59" textLength="27.2" lengthAdjust="spacingAndGlyphs">12</text>
<text x="1055.42" y="510.75" textLength="26.0" lengthAdjust="spacingAndGlyphs">11</text>
<text x="1117.34" y="517.56" textLength="26.0" lengthAdjust="spacingAndGlyphs">11</text>
</g>
<text fill="#ffffff" stroke="#ffffff" font-family="'Liberation Sans', 'Noto Sans CJK TC', sans-serif"><tspan font-weight="700" font-size="44.5" stroke-width="0.6"><tspan x="401.9" y="83.6">1</tspan><tspan x="427.2" y="83.6">2</tspan><tspan x="456.5" y="89.4" font-size="58" stroke-width="1.2">/</tspan><tspan x="476.3" y="83.6">2</tspan><tspan x="501.4" y="83.6">7</tspan><tspan x="525.3" y="80.5" font-size="52" stroke-width="1.0">~</tspan><tspan x="553.7" y="83.6">1</tspan><tspan x="580.75" y="89.4" font-size="58" stroke-width="1.2">/</tspan><tspan x="601.1" y="83.6">2</tspan><tspan x="626.55" y="87.1" font-size="50">-</tspan></tspan><tspan x="645" y="83.6" font-size="44.5"> </tspan><tspan font-weight="400" font-size="47.3" stroke-width="1.1"><tspan x="655.95" y="82.7">高</tspan><tspan x="707.25" y="82.7">風</tspan><tspan x="758.55" y="82.7">險</tspan><tspan x="809.85" y="82.7">商</tspan><tspan x="861.15" y="82.7">品</tspan><tspan x="912.45" y="82.7">數</tspan></tspan><tspan font-size="53.8" stroke-width="0.5"><tspan x="958.8" y="84.3" font-weight="700" stroke-width="0">:</tspan><tspan x="973.6" y="84.3" letter-spacing="1">462</tspan></tspan></text>
<g fill="#d9d9d9" stroke="#d9d9d9" stroke-width="0.75" font-family="'Liberation Sans', 'Noto Sans CJK TC', sans-serif">
<text transform="translate(34.81,496.24) rotate(90)" x="0" y="0" font-size="35" stroke-width="0.9" textLength="133.5" lengthAdjust="spacingAndGlyphs">IPHONE</text>
<text font-size="31.6"><tspan x="83.14" y="531.40">特</tspan><tspan x="83.14" y="564.80">價</tspan></text>
<text font-size="31.6"><tspan x="134.16" y="537.31">代</tspan><tspan x="134.16" y="570.71">購</tspan></text>
<text font-size="31.6"><tspan x="185.74" y="543.29">現</tspan><tspan x="185.74" y="576.69">貨</tspan></text>
<text font-size="31.6"><tspan x="237.90" y="549.34">娃</tspan><tspan x="237.90" y="582.74">娃</tspan></text>
<text font-size="31.6"><tspan x="290.64" y="555.45">家</tspan><tspan x="290.64" y="588.85">用</tspan></text>
<text font-size="31.6"><tspan x="343.97" y="561.63">精</tspan><tspan x="343.97" y="595.03">品</tspan></text>
<text font-size="31.6"><tspan x="397.91" y="567.88">掃</tspan><tspan x="397.91" y="601.28">地</tspan><tspan x="397.91" y="634.68">機</tspan><tspan x="397.91" y="668.08">器</tspan><tspan x="397.91" y="701.48">人</tspan></text>
<text transform="translate(454.60,544.90) rotate(90)" x="0" y="0" font-size="35" stroke-width="0.9" textLength="169.0" lengthAdjust="spacingAndGlyphs">HOLOLIVE</text>
<text transform="translate(509.77,551.29) rotate(90)" x="0" y="0" font-size="35" stroke-width="0.9" textLength="139.0" lengthAdjust="spacingAndGlyphs">CHANEL</text>
<text font-size="31.6"><tspan x="563.43" y="587.07">全</tspan><tspan x="563.43" y="620.47">新</tspan></text>
<text font-size="31.6"><tspan x="619.88" y="593.61">背</tspan><tspan x="619.88" y="627.01">包</tspan></text>
<text transform="translate(679.12,570.92) rotate(90)" x="0" y="0" font-size="35" stroke-width="0.9" textLength="37.0" lengthAdjust="spacingAndGlyphs">LV</text>
<text font-size="31.6"><tspan x="734.75" y="606.93">唐</tspan><tspan x="734.75" y="640.33">吉</tspan><tspan x="734.75" y="673.73">訶</tspan><tspan x="734.75" y="707.13">德</tspan></text>
<text font-size="31.6"><tspan x="793.20" y="613.70">日</tspan><tspan x="793.20" y="647.10">版</tspan><tspan x="793.20" y="680.50">代</tspan><tspan x="793.20" y="713.90">購</tspan></text>
<text font-size="31.6"><tspan x="852.34" y="620.56">名</tspan><tspan x="852.34" y="653.96">牌</tspan></text>
<text font-size="31.6"><tspan x="912.18" y="627.49">店</tspan><tspan x="912.18" y="660.89">保</tspan></text>
<text font-size="31.6"><tspan x="972.74" y="634.51">愛</tspan><tspan x="972.74" y="667.91">馬</tspan><tspan x="972.74" y="701.31">仕</tspan></text>
<text font-size="31.6"><tspan x="1034.03" y="641.62">正</tspan><tspan x="1034.03" y="675.02">品</tspan></text>
<text font-size="31.6"><tspan x="1096.06" y="648.81">勞</tspan><tspan x="1096.06" y="682.21">力</tspan><tspan x="1096.06" y="715.61">士</tspan></text>
</g>
</svg>
</body></html>
